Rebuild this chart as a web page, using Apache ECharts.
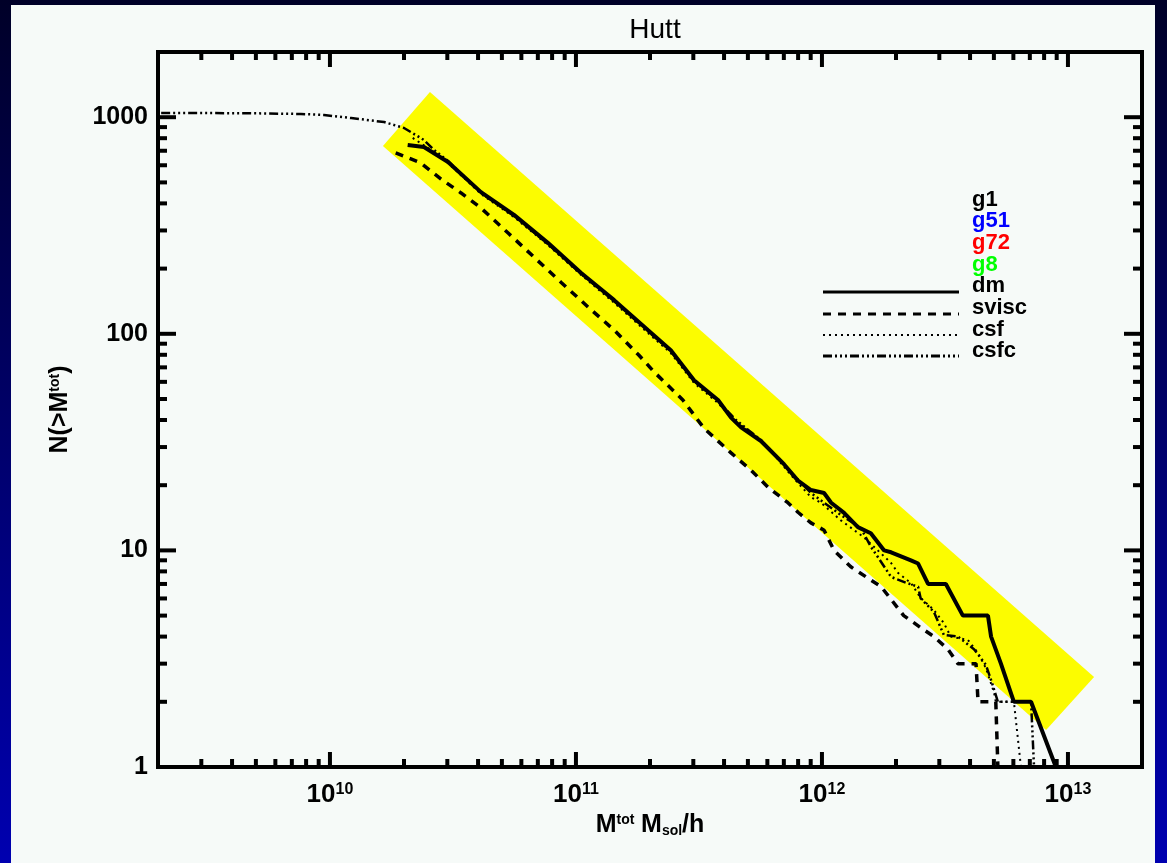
<!DOCTYPE html>
<html><head><meta charset="utf-8">
<script src="https://cdn.jsdelivr.net/npm/echarts@6/dist/echarts.min.js"></script>
<style>
html,body{margin:0;padding:0;width:1167px;height:863px;overflow:hidden;background:linear-gradient(to bottom,#000028 0%,#00006a 50%,#0000b0 100%);}
#panel{position:absolute;left:11px;top:5px;width:1144px;height:858px;background:#f6faf8;}
#chart{position:absolute;left:0;top:0;width:1167px;height:863px;}
</style></head><body><div id="panel"></div><div id="chart"></div>
<script>
// ---- data ----
const titleText = 'Hutt';
const xMin = 2e9, xMax = 2e13, yMin = 1, yMax = 2000;
const xTicks = [3e9,4e9,5e9,6e9,7e9,8e9,9e9,1e10,2e10,3e10,4e10,5e10,6e10,7e10,8e10,9e10,1e11,2e11,3e11,4e11,5e11,6e11,7e11,8e11,9e11,1e12,2e12,3e12,4e12,5e12,6e12,7e12,8e12,9e12,1e13];
const yTicks = [2,3,4,5,6,7,8,9,10,20,30,40,50,60,70,80,90,100,200,300,400,500,600,700,800,900,1000];
const yTickLabels = {1:'1',10:'10',100:'100',1000:'1000'};

const bandM = [1.642e10, 2.55e10, 1.277e13, 8.15e12];
const bandN = [736, 1307, 2.60, 1.48];

const dmM = [2.07e10,2.41e10,3.02e10,4.11e10,5.6e10,7.69e10,1.05e11,1.43e11,1.96e11,2.43e11,3.02e11,3.78e11,4.27e11,4.69e11,5.65e11,7.01e11,7.99e11,9.02e11,1.02e12,1.09e12,1.23e12,1.4e12,1.58e12,1.79e12,1.91e12,2.3e12,2.46e12,2.7e12,3.19e12,3.74e12,4.73e12,4.87e12,5.34e12,6.03e12,7.08e12,8.93e12];
const dmN = [744,728,621,451,354,263,191,143,104,84,61,49.5,41,37,32,25,21,19,18.4,16.6,14.9,12.8,12,10,9.8,9,8.7,7,7,5,5,4,3,2,2,1];

const sviscM = [1.85e10,2.34e10,2.83e10,3.41e10,4.11e10,5.3e10,6.75e10,8.69e10,1.12e11,1.43e11,1.8e11,2.08e11,2.72e11,3.31e11,4.27e11,5.14e11,6.03e11,7.27e11,7.99e11,9.02e11,1.02e12,1.12e12,1.31e12,1.58e12,1.74e12,2.15e12,2.52e12,2.85e12,3.25e12,3.57e12,4.23e12,4.31e12,5.09e12,5.19e12];
const sviscN = [684,615,518,447,381,292,226,173,133,104,79.8,66.6,49.5,36.7,28.2,23.5,19.6,16.6,15,13.4,12.4,10,8.4,7.3,6.8,5,4.4,4,3.5,3,3,2,2,1];

const csfM = [2.17e10,2.65e10,3.02e10,4.11e10,5.6e10,7.69e10,1.05e11,1.43e11,1.96e11,2.43e11,3.02e11,3.78e11,4.47e11,5.14e11,6.03e11,7.01e11,7.99e11,9.02e11,9.91e11,1.19e12,1.48e12,1.91e12,2.04e12,2.3e12,2.52e12,2.85e12,3.13e12,3.34e12,3.92e12,4.31e12,4.64e12,5.0e12,5.09e12,6.03e12,6.44e12];
const csfN = [802,691,615,442,346,257,187,139,101,81.5,59.3,47.9,39.2,35.2,30,24.3,20.5,17.6,16.6,13.8,11.5,8.75,7.87,7.07,6.03,5.31,4.62,4,3.86,3.36,2.86,2.22,2,2,1];

const csfcM = [2.06e9,2.99e9,4.78e9,7.62e9,9.46e9,1.22e10,1.66e10,2.0e10,2.41e10,2.65e10,3.02e10,4.11e10,5.6e10,7.69e10,1.05e11,1.43e11,1.96e11,2.43e11,3.02e11,3.78e11,4.47e11,5.65e11,7.01e11,9.02e11,1.19e12,1.44e12,1.58e12,1.69e12,1.91e12,2.19e12,2.46e12,2.52e12,2.85e12,3.13e12,3.57e12,4.15e12,4.64e12,4.87e12,5.19e12,7.08e12,7.28e12];
const csfcN = [1045,1045,1043,1035,1024,991,950,892,785,706,628,447,350,260,189,142,103,83.3,60.5,48.9,40,32.3,24.8,18.4,14.6,12.7,10.4,9.3,7.54,7.1,6.8,6,5.2,4.07,4,3.5,2.96,2.52,2,2,1];

const groupNames = ['g1','g51','g72','g8'];
const groupColors = ['#000000','#0000ff','#ff0000','#00ff00'];
const modelNames = ['dm','svisc','csf','csfc'];

// ---- styles ----
const FONT = 'Liberation Sans';
const dashes = {
  dm: 'solid',
  svisc: [8, 7],
  csf: [2, 4],
  csfc: [9, 3, 2, 3, 2, 3, 2, 3]
};
const widths = {dm: 4, svisc: 3.5, csf: 2, csfc: 2.5};

function zip(a, b) { return a.map((v, i) => [v, b[i]]); }
function isPow10(v) { const l = Math.log10(v); return Math.abs(l - Math.round(l)) < 1e-6; }

function tickRender(axis) {
  return function (params, api) {
    const cs = params.coordSys;
    const v = api.value(axis === 'x' ? 0 : 1);
    const major = isPow10(v);
    const style = {stroke: '#000', lineWidth: 4};
    if (axis === 'x') {
      const len = major ? 15 : 8;
      const x = api.coord([v, 10])[0];
      const b = cs.y + cs.height, t = cs.y;
      return {type: 'group', children: [
        {type: 'line', shape: {x1: x, y1: b, x2: x, y2: b - len}, style: style},
        {type: 'line', shape: {x1: x, y1: t, x2: x, y2: t + len}, style: style}
      ]};
    } else {
      const len = major ? 18 : 9;
      const y = api.coord([1e10, v])[1];
      const l = cs.x, r = cs.x + cs.width;
      return {type: 'group', children: [
        {type: 'line', shape: {x1: l, y1: y, x2: l + len, y2: y}, style: style},
        {type: 'line', shape: {x1: r, y1: y, x2: r - len, y2: y}, style: style}
      ]};
    }
  };
}

const chart = echarts.init(document.getElementById('chart'), null, {renderer: 'canvas'});

const legendGraphics = [];
const legX = 972, lineX1 = 823, lineX2 = 959;
const groupY = [200, 221, 243, 265];
groupNames.forEach((n, i) => {
  legendGraphics.push({type: 'text', left: legX, top: groupY[i] - 11, style: {text: n, fill: groupColors[i], font: 'bold 22px "' + FONT + '"'}});
});
const modelY = [286, 308, 330, 351];
const modelLineY = [292, 314, 335, 356];
modelNames.forEach((n, i) => {
  legendGraphics.push({type: 'text', left: legX, top: modelY[i] - 11, style: {text: n, fill: '#000', font: 'bold 22px "' + FONT + '"'}});
  const d = dashes[n];
  legendGraphics.push({type: 'line', shape: {x1: lineX1, y1: modelLineY[i], x2: lineX2, y2: modelLineY[i]},
    style: {stroke: '#000', lineWidth: n === 'csf' ? 2 : 3, lineDash: d === 'solid' ? null : d}});
});

const option = {
  animation: false,
  title: {text: titleText, left: 650, top: 11, textAlign: 'center',
    textStyle: {fontFamily: FONT, fontSize: 28, fontWeight: 'normal', color: '#000'}},
  grid: {left: 158, top: 52, width: 984, height: 715, show: true, borderColor: '#000', borderWidth: 4, backgroundColor: 'transparent'},
  xAxis: {
    type: 'log', logBase: 10, min: xMin, max: xMax,
    axisLine: {show: false}, axisTick: {show: false}, splitLine: {show: false},
    axisLabel: {
      margin: 15,
      formatter: function (v) { if (!isPow10(v)) return ''; return '{b|10}{s|' + Math.round(Math.log10(v)) + '}'; },
      rich: {
        b: {fontFamily: FONT, fontSize: 26, fontWeight: 'bold', color: '#000'},
        s: {fontFamily: FONT, fontSize: 16, fontWeight: 'bold', color: '#000', verticalAlign: 'top'}
      }
    },
    name: '{n|M}{sp|tot}  {n|M}{sb|sol}{n|/h}',
    nameLocation: 'middle', nameGap: 44,
    nameTextStyle: {
      rich: {
        n: {fontFamily: FONT, fontSize: 25, fontWeight: 'bold', color: '#000'},
        sp: {fontFamily: FONT, fontSize: 14, fontWeight: 'bold', color: '#000', verticalAlign: 'top'},
        sb: {fontFamily: FONT, fontSize: 14, fontWeight: 'bold', color: '#000', verticalAlign: 'bottom'}
      }
    }
  },
  yAxis: {
    type: 'log', logBase: 10, min: yMin, max: yMax,
    axisLine: {show: false}, axisTick: {show: false}, splitLine: {show: false},
    axisLabel: {
      margin: 10,
      fontFamily: FONT, fontSize: 25, fontWeight: 'bold', color: '#000',
      formatter: function (v) { if (!isPow10(v)) return ''; return yTickLabels[Math.round(v)] || ''; }
    },
    name: '{n|N(>M}{sp|tot}{n|)}',
    nameLocation: 'middle', nameGap: 85, nameRotate: 90,
    nameTextStyle: {
      rich: {
        n: {fontFamily: FONT, fontSize: 25, fontWeight: 'bold', color: '#000'},
        sp: {fontFamily: FONT, fontSize: 14, fontWeight: 'bold', color: '#000', verticalAlign: 'top'}
      }
    }
  },
  graphic: legendGraphics,
  series: [
    {type: 'custom', name: 'band', coordinateSystem: 'cartesian2d', data: [[bandM[0], bandN[0]]], z: 1, silent: true,
      renderItem: function (params, api) {
        const pts = bandM.map((m, i) => api.coord([m, bandN[i]]));
        return {type: 'polygon', shape: {points: pts}, style: {fill: '#fcfc00'}};
      }},
    {type: 'line', name: 'svisc', data: zip(sviscM, sviscN), showSymbol: false, symbol: 'none', z: 3,
      lineStyle: {color: '#000', width: widths.svisc, type: dashes.svisc, cap: 'butt'}},
    {type: 'line', name: 'csf', data: zip(csfM, csfN), showSymbol: false, symbol: 'none', z: 3,
      lineStyle: {color: '#000', width: widths.csf, type: dashes.csf, cap: 'butt'}},
    {type: 'line', name: 'csfc', data: zip(csfcM, csfcN), showSymbol: false, symbol: 'none', z: 3,
      lineStyle: {color: '#000', width: widths.csfc, type: dashes.csfc, cap: 'butt'}},
    {type: 'line', name: 'dm', data: zip(dmM, dmN), showSymbol: false, symbol: 'none', z: 4,
      lineStyle: {color: '#000', width: widths.dm, type: 'solid'}},
    {type: 'custom', name: 'xticks', coordinateSystem: 'cartesian2d', data: xTicks.map(v => [v, 10]), z: 5, silent: true,
      renderItem: tickRender('x')},
    {type: 'custom', name: 'yticks', coordinateSystem: 'cartesian2d', data: yTicks.map(v => [1e10, v]), z: 5, silent: true,
      renderItem: tickRender('y')}
  ]
};
chart.setOption(option);
</script></body></html>
